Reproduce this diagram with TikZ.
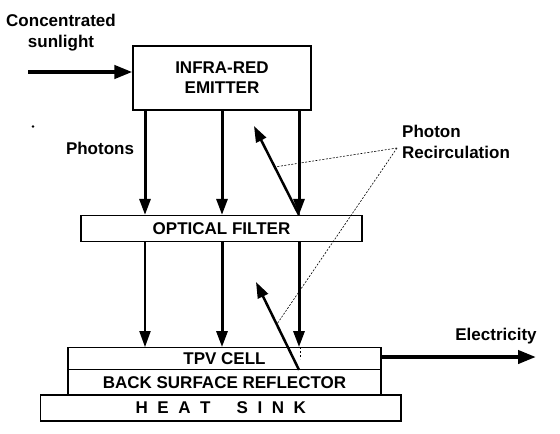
\documentclass[tikz,border=0pt]{standalone}
\usepackage{fontspec}
\setmainfont{Liberation Sans}
\usetikzlibrary{arrows.meta}
\tikzset{
  box/.style={draw, line width=1.2pt, inner sep=0pt, font=\fontsize{17}{20}\selectfont\bfseries, align=center},
  lbl/.style={inner sep=0pt, font=\fontsize{17}{21}\selectfont\bfseries},
  thickarr/.style={line width=3pt, -{Triangle[length=16pt,width=11pt]}},
  thinarr/.style={line width=2pt, -{Triangle[length=16pt,width=11pt]}},
  backarr/.style={line width=2.5pt, -{Triangle[length=16pt,width=11pt]}},
  bigarr/.style={line width=4pt, -{Triangle[length=18pt,width=13pt]}},
  dotline/.style={line width=0.6pt, dash pattern=on 2pt off 1.5pt},
}
\newcommand{\hs}{\kern9.6pt}
\begin{document}
\begin{tikzpicture}[x=1pt,y=-1pt]
\useasboundingbox (0,0) rectangle (560,434);
% boxes
\node[box, minimum width=178pt, minimum height=64pt] (emitter) at (222,78) {INFRA-RED\\EMITTER};
\node[box, minimum width=281pt, minimum height=26pt] (filter) at (221.5,228.5) {OPTICAL FILTER};
\node[box, minimum width=313pt, minimum height=21.6pt] (tpv) at (224.5,358.5) {TPV CELL};
\node[box, minimum width=313pt, minimum height=25.7pt] (bsr) at (224.5,382.15) {BACK SURFACE REFLECTOR};
\node[box, minimum width=360.5pt, minimum height=26pt] (sink) at (220.75,408) {H\hs E\hs A\hs T\kern26pt S\hs I\hs N\hs K};
% labels
\node[lbl, align=center] (sun) at (61,33) {Concentrated\\sunlight};
\node[lbl] (photons) at (100,148.5) {Photons};
\node[lbl, align=left, anchor=west] (recirc) at (402,141.5) {Photon\\Recirculation};
\node[lbl] (elec) at (496,336.5) {Electricity};
\fill (33,126.5) circle (1.4pt);
% columns
\coordinate (c1) at (145,0);
\coordinate (c2) at (222,0);
\coordinate (c3) at (299,0);
% sunlight
\coordinate (sunstart) at (28,72);
\draw[bigarr] (sunstart) -- (emitter.west |- sunstart);
% emitter -> filter
\draw[thickarr] (emitter.south -| c1) -- (filter.north -| c1);
\draw[thickarr] (emitter.south -| c2) -- (filter.north -| c2);
\draw[thickarr] (emitter.south -| c3) -- (filter.north -| c3);
% filter -> tpv
\draw[thinarr] (filter.south -| c1) -- (tpv.north -| c1);
\draw[thickarr] (filter.south -| c2) -- (tpv.north -| c2);
\draw[thickarr] (filter.south -| c3) -- (tpv.north -| c3);
\draw[line width=1pt, dash pattern=on 2pt off 2pt] ([xshift=1pt]tpv.north -| c3) -- ++(0,12);
% recirculation
\coordinate (tip1) at (254,126);
\coordinate (tip2) at (256,282);
\draw[backarr] (filter.north -| c3) -- (tip1);
\draw[backarr] (tpv.south -| c3) -- (tip2);
\coordinate (rc) at (397,148);
\draw[dotline] (rc) -- (274.5,167);
\draw[dotline] (rc) -- (277,324);
% electricity
\coordinate (elecend) at (536,357);
\draw[bigarr] (tpv.east |- elecend) -- (elecend);
\end{tikzpicture}
\end{document}
